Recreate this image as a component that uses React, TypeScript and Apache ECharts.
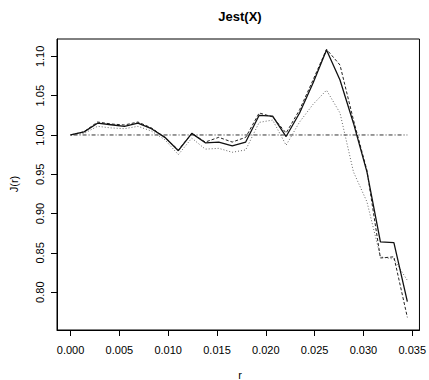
import React, { useEffect, useRef } from "react";
import * as echarts from "echarts";

const rVals = [0, 0.00138, 0.00276, 0.00414, 0.00552, 0.0069, 0.00828, 0.00966, 0.01104, 0.01242, 0.0138, 0.01518, 0.01656, 0.01794, 0.01932, 0.0207, 0.02208, 0.02346, 0.02484, 0.02622, 0.0276, 0.02898, 0.03036, 0.03174, 0.03312, 0.0345];
const jSolid = [1.0, 1.004, 1.015, 1.013, 1.011, 1.015, 1.008, 0.997, 0.98, 1.002, 0.99, 0.991, 0.986, 0.991, 1.025, 1.024, 0.998, 1.028, 1.066, 1.108, 1.07, 1.015, 0.953, 0.864, 0.863, 0.788];
const jDashed = [1.0, 1.004, 1.0165, 1.014, 1.0127, 1.0165, 1.009, 0.997, 0.981, 1.002, 0.991, 0.997, 0.991, 0.997, 1.028, 1.023, 1.0025, 1.032, 1.07, 1.109, 1.089, 1.019, 0.955, 0.8435, 0.845, 0.768];
const jDotted = [1.0, 1.002, 1.011, 1.009, 1.008, 1.011, 1.005, 0.994, 0.975, 0.996, 0.982, 0.983, 0.978, 0.981, 1.016, 1.019, 0.987, 1.0165, 1.039, 1.057, 1.028, 0.953, 0.915, 0.845, 0.842, 0.815];
const theoR = [0, 0.0345];
const theoJ = [1, 1];
const xTicks = [0, 0.005, 0.01, 0.015, 0.02, 0.025, 0.03, 0.035];
const yTicks = [0.8, 0.85, 0.9, 0.95, 1.0, 1.05, 1.1];

const FONT = "'Liberation Sans', Arial, Helvetica, sans-serif";

export default function App() {
  const ref = useRef<HTMLDivElement>(null);
  useEffect(() => {
    if (!ref.current) return;
    const chart = echarts.init(ref.current, undefined, { renderer: "svg" });
    const pair = (ys: number[]) => rVals.map((r, i) => [r, ys[i]]);
    chart.setOption({
      animation: false,
      backgroundColor: "#fff",
      grid: {
        left: 57,
        top: 39,
        right: 5,
        bottom: 50,
        show: true,
        borderColor: "#000",
        borderWidth: 1,
        backgroundColor: "transparent",
      },
      xAxis: {
        type: "value",
        min: -0.00139,
        max: 0.03574,
        axisLine: { show: true, onZero: false, lineStyle: { color: "#000", width: 1 } },
        axisTick: { show: true, length: 6, customValues: xTicks, lineStyle: { color: "#000" } },
        axisLabel: {
          customValues: xTicks,
          formatter: (v: number) => v.toFixed(3),
          color: "#000",
          fontSize: 11,
          fontFamily: FONT,
          margin: 14,
        },
        splitLine: { show: false },
      },
      yAxis: {
        type: "value",
        min: 0.7519,
        max: 1.1221,
        axisLine: { show: true, onZero: false, lineStyle: { color: "#000", width: 1 } },
        axisTick: { show: true, length: 6, customValues: yTicks, lineStyle: { color: "#000" } },
        axisLabel: {
          customValues: yTicks,
          formatter: (v: number) => v.toFixed(2),
          color: "#000",
          fontSize: 11,
          fontFamily: FONT,
          rotate: 90,
          margin: 12,
        },
        splitLine: { show: false },
      },
      graphic: [
        {
          type: "text",
          x: 240,
          y: 16,
          style: { text: "Jest(X)", fontSize: 13, fontWeight: "bold", fontFamily: FONT, fill: "#000", align: "center", verticalAlign: "middle" },
        },
        {
          type: "text",
          x: 240,
          y: 375,
          style: { text: "r", fontSize: 11, fontFamily: FONT, fill: "#000", align: "center", verticalAlign: "middle" },
        },
        {
          type: "text",
          x: 14,
          y: 184,
          rotation: Math.PI / 2,
          style: { text: "J(r)", fontSize: 11, fontFamily: FONT, fill: "#000", align: "center", verticalAlign: "middle" },
        },
      ],
      series: [
        {
          type: "line",
          data: theoR.map((r, i) => [r, theoJ[i]]),
          showSymbol: false,
          lineStyle: { color: "#333", width: 1, type: [1, 2, 4, 2] },
          z: 1,
        },
        {
          type: "line",
          data: pair(jDotted),
          showSymbol: false,
          lineStyle: { color: "#666", width: 1, type: [1, 2] },
          z: 2,
        },
        {
          type: "line",
          data: pair(jDashed),
          showSymbol: false,
          lineStyle: { color: "#222", width: 1, type: [3, 2] },
          z: 3,
        },
        {
          type: "line",
          data: pair(jSolid),
          showSymbol: false,
          lineStyle: { color: "#111", width: 1.3, type: "solid" },
          z: 4,
        },
      ],
    });
    return () => chart.dispose();
  }, []);
  return (
    <div
      ref={ref}
      style={{ position: "fixed", left: 0, top: 0, width: 429, height: 380, background: "#fff" }}
    />
  );
}
